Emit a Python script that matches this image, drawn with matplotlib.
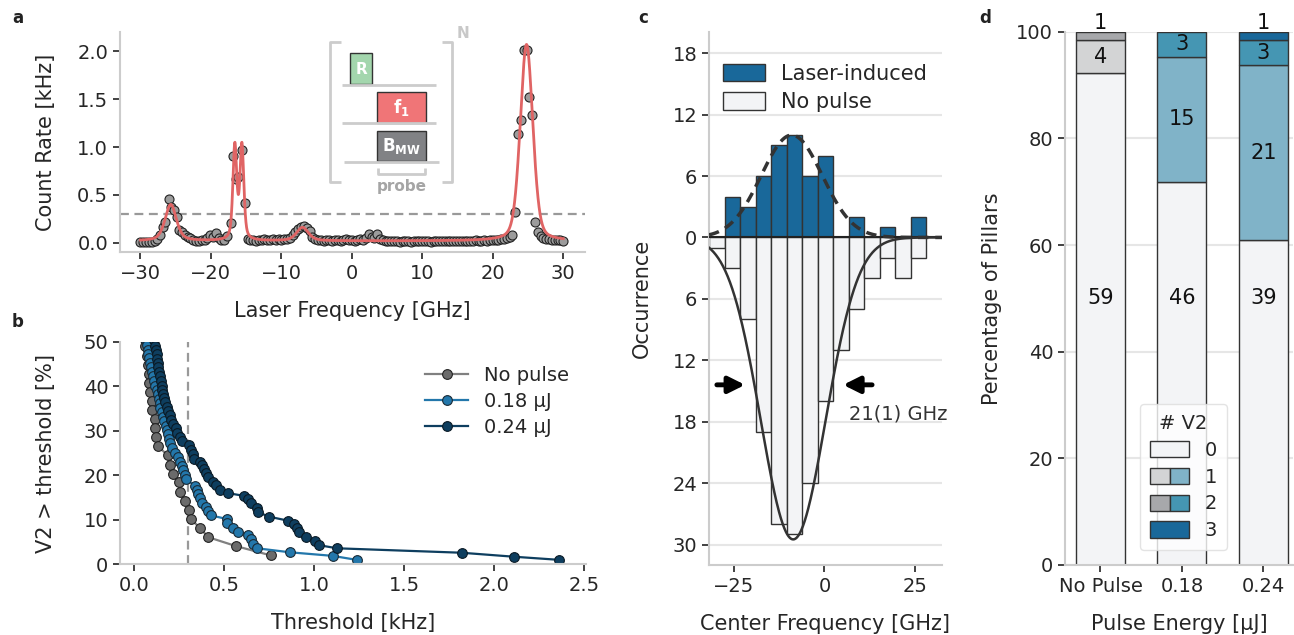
import numpy as np
import matplotlib
matplotlib.use("Agg")
import matplotlib.pyplot as plt
from matplotlib.patches import Patch, Rectangle
from matplotlib.legend_handler import HandlerTuple

# ---------------- data ----------------
# panel a: PLE scan
freq_a = [
    -30.0, -29.6, -29.2, -28.8, -28.4, -28.0, -27.6, -27.2, -26.8, -26.5,
    -26.0, -25.6, -25.2, -24.8, -24.5, -24.1, -23.7, -23.3, -22.9, -22.5,
    -22.1, -21.7, -21.3, -20.9, -20.5, -20.1, -19.7, -19.3, -18.9, -18.5,
    -18.1, -17.7, -17.2, -16.8, -16.4, -16.1, -15.6, -15.2, -14.8, -14.4,
    -14.0, -13.6, -13.2, -12.8, -12.4, -12.0, -11.6, -11.2, -10.8, -10.4,
    -10.0, -9.6, -9.2, -8.8, -8.4, -8.0, -7.6, -7.2, -6.8, -6.4,
    -6.0, -5.6, -5.2, -4.8, -4.4, -4.0, -3.6, -3.2, -2.8, -2.4,
    -2.0, -1.6, -1.2, -0.8, -0.4, 0.0, 0.4, 0.8, 1.2, 1.6,
    2.0, 2.4, 2.8, 3.2, 3.6, 4.0, 4.4, 4.8, 5.2, 5.6,
    6.0, 6.4, 6.8, 7.2, 7.6, 8.0, 8.4, 8.8, 9.2, 9.6,
    10.0, 10.4, 10.8, 11.2, 11.6, 12.0, 12.4, 12.8, 13.2, 13.6,
    14.0, 14.4, 14.8, 15.2, 15.6, 16.0, 16.4, 16.8, 17.2, 17.6,
    18.0, 18.4, 18.8, 19.2, 19.6, 20.0, 20.4, 20.8, 21.2, 21.6,
    22.0, 22.4, 22.8, 23.2, 23.6, 24.0, 24.4, 24.8, 25.2, 25.6,
    26.0, 26.4, 26.8, 27.2, 27.6, 28.0, 28.4, 28.8, 29.2, 29.6,
    30.0,
]
rate_a = [
    0.01, 0.01, 0.01, 0.01, 0.01, 0.02, 0.04, 0.08, 0.17, 0.22,
    0.46, 0.37, 0.34, 0.27, 0.13, 0.11, 0.08, 0.06, 0.05, 0.03,
    0.02, 0.02, 0.03, 0.03, 0.05, 0.08, 0.06, 0.10, 0.05, 0.03,
    0.03, 0.07, 0.21, 0.91, 0.67, 0.69, 0.97, 0.42, 0.04, 0.03,
    0.03, 0.02, 0.03, 0.03, 0.04, 0.03, 0.03, 0.04, 0.03, 0.04,
    0.03, 0.04, 0.04, 0.05, 0.08, 0.11, 0.15, 0.17, 0.18, 0.16,
    0.12, 0.06, 0.04, 0.03, 0.03, 0.02, 0.03, 0.03, 0.02, 0.03,
    0.03, 0.02, 0.03, 0.04, 0.03, 0.03, 0.02, 0.03, 0.04, 0.03,
    0.05, 0.09, 0.06, 0.05, 0.09, 0.04, 0.03, 0.02, 0.02, 0.02,
    0.02, 0.02, 0.01, 0.02, 0.02, 0.02, 0.01, 0.02, 0.02, 0.02,
    0.02, 0.02, 0.02, 0.01, 0.02, 0.02, 0.02, 0.02, 0.02, 0.02,
    0.02, 0.02, 0.02, 0.02, 0.02, 0.02, 0.02, 0.02, 0.02, 0.03,
    0.02, 0.02, 0.03, 0.02, 0.03, 0.03, 0.03, 0.03, 0.04, 0.04,
    0.05, 0.06, 0.08, 0.32, 1.14, 1.28, 2.01, 2.01, 1.52, 1.33,
    0.22, 0.11, 0.07, 0.05, 0.04, 0.04, 0.03, 0.03, 0.03, 0.03,
    0.02,
]
# fitted peaks: center, amplitude, fwhm, lorentz fraction
fit_centers = [-25.7, -16.6, -15.6, -7.0, 24.8]
fit_amps = [0.38, 0.98, 0.98, 0.14, 2.05]
fit_fwhm = [1.9, 0.65, 0.65, 2.0, 2.1]
fit_eta = [0.5, 0.5, 0.5, 0.5, 0.3]
fit_offset = 0.02
threshold_a = 0.3

# panel b: fraction of V2 above threshold
thr_nopulse = [0.055, 0.060, 0.069, 0.074, 0.081, 0.083, 0.087, 0.097, 0.100, 0.115,
               0.115, 0.120, 0.134, 0.186, 0.198, 0.213, 0.248, 0.254, 0.282, 0.306,
               0.313, 0.365, 0.411, 0.565, 0.759]
pct_nopulse = [51.0, 49.0, 46.9, 44.9, 42.9, 40.8, 38.8, 36.7, 34.7, 32.7,
               30.6, 28.6, 26.5, 24.5, 22.4, 20.4, 18.4, 16.3, 14.3, 12.2,
               10.2, 8.2, 6.1, 4.1, 2.0]
thr_018 = [0.064, 0.069, 0.074, 0.078, 0.083, 0.087, 0.093, 0.097, 0.106, 0.110,
           0.115, 0.124, 0.130, 0.139, 0.143, 0.146, 0.156, 0.161, 0.165, 0.175,
           0.180, 0.187, 0.193, 0.200, 0.208, 0.226, 0.245, 0.254, 0.263, 0.272,
           0.282, 0.287, 0.337, 0.347, 0.356, 0.365, 0.374, 0.398, 0.411, 0.426,
           0.513, 0.517, 0.550, 0.578, 0.633, 0.648, 0.661, 0.683, 0.865, 1.102,
           1.235]
pct_018 = [50.5, 49.4, 48.3, 47.3, 46.3, 45.3, 44.3, 43.2, 42.3, 41.3,
           40.2, 39.3, 38.3, 37.2, 36.3, 35.1, 34.2, 33.2, 32.3, 31.1,
           30.2, 29.3, 28.2, 27.2, 26.1, 25.1, 24.1, 23.1, 22.2, 21.2,
           20.1, 19.1, 17.7, 16.7, 15.8, 14.9, 13.9, 13.0, 12.0, 11.0,
           10.2, 9.2, 8.2, 7.3, 6.6, 5.6, 4.6, 3.6, 2.7, 1.9,
           1.0]
thr_024 = [0.110, 0.115, 0.120, 0.124, 0.128, 0.130, 0.134, 0.139, 0.143, 0.148,
           0.152, 0.156, 0.161, 0.165, 0.171, 0.183, 0.189, 0.198, 0.204, 0.217,
           0.232, 0.239, 0.254, 0.267, 0.304, 0.313, 0.324, 0.333, 0.365, 0.374,
           0.389, 0.398, 0.411, 0.436, 0.454, 0.476, 0.522, 0.609, 0.633, 0.647,
           0.680, 0.689, 0.750, 0.856, 0.889, 0.902, 0.917, 0.954, 1.004, 1.026,
           1.128, 1.819, 2.111, 2.361]
pct_024 = [50.5, 49.2, 48.3, 47.3, 46.2, 45.3, 44.3, 43.2, 42.3, 41.3,
           40.2, 39.3, 38.4, 37.4, 36.4, 35.4, 34.4, 33.5, 32.5, 31.6,
           30.6, 29.6, 28.7, 27.8, 26.9, 25.6, 24.8, 23.7, 23.1, 22.4,
           21.4, 20.5, 19.6, 18.6, 17.8, 16.7, 16.0, 15.4, 14.6, 13.7,
           12.7, 11.7, 10.7, 9.8, 9.0, 8.1, 7.2, 6.1, 5.3, 4.3,
           3.6, 2.6, 1.7, 1.0]
threshold_b = 0.3

# panel c: histogram of center frequencies
bin_edges = [-31.8, -27.52, -23.24, -18.96, -14.68, -10.40, -6.12, -1.84,
             2.44, 6.72, 11.00, 15.28, 19.56, 23.84, 28.12]
counts_laser = [0, 4, 3, 6, 9, 10, 6, 8, 0, 2, 0, 1, 0, 2]
counts_nopulse = [1, 3, 8, 19, 28, 29, 24, 16, 11, 7, 4, 2, 4, 2]
gauss_laser = (10.0, -9.0, 8.4)      # amplitude, center, sigma
gauss_nopulse = (29.5, -8.6, 8.92)
fwhm_label = "21(1) GHz"

# panel d: number of V2 per pillar
energies = ["No Pulse", "0.18", "0.24"]
n_v2_0 = [59, 46, 39]
n_v2_1 = [4, 15, 21]
n_v2_2 = [1, 3, 3]
n_v2_3 = [0, 0, 1]

# ---------------- style ----------------
plt.rcParams.update({
    "font.family": "DejaVu Sans",
    "font.size": 14,
    "axes.labelsize": 15,
    "axes.labelpad": 9,
    "xtick.labelsize": 14,
    "ytick.labelsize": 14,
    "axes.edgecolor": "#cccccc",
    "axes.linewidth": 1.5,
    "xtick.color": "#333333",
    "ytick.color": "#333333",
    "xtick.labelcolor": "#262626",
    "ytick.labelcolor": "#262626",
    "xtick.major.size": 5,
    "ytick.major.size": 5,
    "xtick.major.width": 1.3,
    "ytick.major.width": 1.3,
    "axes.labelcolor": "#262626",
    "text.color": "#262626",
})
XPAD = 13

W, H = 1294, 635
fig = plt.figure(figsize=(W / 100, H / 100), dpi=100)


def despine(ax):
    ax.spines["top"].set_visible(False)
    ax.spines["right"].set_visible(False)


def pvoigt(x, c, a, fwhm, eta):
    g = np.exp(-4 * np.log(2) * (x - c) ** 2 / fwhm ** 2)
    l = 1.0 / (1 + 4 * (x - c) ** 2 / fwhm ** 2)
    return a * (eta * l + (1 - eta) * g)


# ---------------- panel a ----------------
ax_a = fig.add_axes([120 / W, 1 - 252 / H, 465 / W, 220 / H])
despine(ax_a)
xf = np.linspace(-30, 30, 2000)
yf = np.full_like(xf, fit_offset)
for c, a, w, e in zip(fit_centers, fit_amps, fit_fwhm, fit_eta):
    yf += pvoigt(xf, c, a, w, e)
ax_a.axhline(threshold_a, color="#999999", ls="--", lw=1.6, dashes=(4, 2.5), zorder=1)
ax_a.plot(freq_a, rate_a, "o", ms=6.5, mfc="#9c9c9c", mec="#222222", mew=0.8, zorder=2)
ax_a.plot(xf, yf, color="#e06464", lw=2, zorder=3)
ax_a.set_xlim(-32.9, 33.1)
ax_a.set_ylim(-0.095, 2.2)
ax_a.set_xticks([-30, -20, -10, 0, 10, 20, 30])
ax_a.set_yticks([0, 0.5, 1.0, 1.5, 2.0])
ax_a.set_xlabel("Laser Frequency [GHz]", labelpad=XPAD)
ax_a.set_ylabel("Count Rate [kHz]")
ax_a.yaxis.set_label_coords(-0.137, 0.5)

# pulse sequence sketch (pixel coordinates)
ax_in = fig.add_axes([322 / W, 1 - 195 / H, 158 / W, 170 / H])
ax_in.set_xlim(322, 480)
ax_in.set_ylim(195, 25)
ax_in.axis("off")
lc = "#cccccc"
for xs, ys in [((340.7, 330, 330, 340.7), (41.7, 41.7, 182.3, 182.3)),
               ((441.7, 452.3, 452.3, 441.7), (41.7, 41.7, 182.3, 182.3)),
               ((341.7, 436), (85.3, 85.3)),
               ((341.7, 436), (123.3, 123.3)),
               ((344.3, 439), (162.3, 162.3)),
               ((378.3, 378.3, 425, 425), (168, 174, 174, 168))]:
    ax_in.plot(xs, ys, color=lc, lw=2, solid_capstyle="butt")
ax_in.add_patch(Rectangle((350, 53.3), 22, 31, fc="#a3d6ad", ec="#333333", lw=1))
ax_in.add_patch(Rectangle((377.3, 92.3), 48.4, 30.4, fc="#f07577", ec="#333333", lw=1))
ax_in.add_patch(Rectangle((377.3, 131), 48.4, 30, fc="#818285", ec="#333333", lw=1))
ax_in.text(361, 69, "R", color="white", fontsize=11, fontweight="bold", ha="center", va="center")
ax_in.text(401.5, 107.5, r"f$_\mathbf{1}$", color="white", fontsize=12, fontweight="bold",
           ha="center", va="center")
ax_in.text(401.5, 146, r"B$_\mathbf{MW}$", color="white", fontsize=12, fontweight="bold",
           ha="center", va="center")
ax_in.text(401.5, 186, "probe", color="#a5a5a5", fontsize=11, fontweight="bold",
           ha="center", va="center")
ax_in.text(463, 33, "N", color="#c8c8c8", fontsize=11, fontweight="bold",
           ha="center", va="center")

# ---------------- panel b ----------------
ax_b = fig.add_axes([120 / W, 1 - 564.3 / H, 466 / W, 222.3 / H])
despine(ax_b)
ax_b.axvline(threshold_b, color="#999999", ls="--", lw=1.6, dashes=(4, 2.5), zorder=1)
ax_b.plot(thr_nopulse, pct_nopulse, "-o", color="#808080", mfc="#6b6b6b", mec="#222222",
          mew=0.8, ms=7, lw=1.6, label="No pulse")
ax_b.plot(thr_018, pct_018, "-o", color="#2377ab", mfc="#2377ab", mec="#1a2a35",
          mew=0.8, ms=7, lw=1.6, label="0.18 µJ")
ax_b.plot(thr_024, pct_024, "-o", color="#0e3e5f", mfc="#0e3e5f", mec="#0a1a25",
          mew=0.8, ms=7, lw=1.6, label="0.24 µJ")
ax_b.set_xlim(-0.079, 2.51)
ax_b.set_ylim(0, 50)
ax_b.set_xticks([0, 0.5, 1.0, 1.5, 2.0, 2.5])
ax_b.set_yticks([0, 10, 20, 30, 40, 50])
ax_b.set_xlabel("Threshold [kHz]", labelpad=XPAD)
ax_b.set_ylabel("V2 > threshold [%]")
ax_b.yaxis.set_label_coords(-0.137, 0.5)
ax_b.legend(loc="upper right", bbox_to_anchor=(1.0, 0.97), frameon=False, fontsize=14,
            handlelength=2.2, labelspacing=0.35)

# ---------------- panel c ----------------
ax_c = fig.add_axes([709 / W, 1 - 565 / H, 233 / W, 533.3 / H])
despine(ax_c)
ax_c.set_axisbelow(True)
ax_c.grid(axis="y", color="#e6e6e6", lw=1.5)
lefts = bin_edges[:-1]
widths = np.diff(bin_edges)
ax_c.bar(lefts, counts_laser, widths, align="edge", color="#19689a", ec="#333333",
         lw=1, label="Laser-induced", zorder=2)
ax_c.bar(lefts, [-v for v in counts_nopulse], widths, align="edge", color="#f3f4f6",
         ec="#333333", lw=1, label="No pulse", zorder=2)
ax_c.axhline(0, color="#222222", lw=1.5, zorder=3)
xg = np.linspace(-31.8, 32.4, 400)
A, mu, s = gauss_laser
ax_c.plot(xg, A * np.exp(-(xg - mu) ** 2 / (2 * s ** 2)), ls="--", color="#333333",
          lw=2.5, dashes=(3, 2), zorder=4)
A, mu, s = gauss_nopulse
ax_c.plot(xg, -A * np.exp(-(xg - mu) ** 2 / (2 * s ** 2)), color="#333333", lw=1.8, zorder=4)
arrow_kw = dict(arrowstyle="-|>,head_width=0.35,head_length=0.7", color="black", lw=3.5)
ax_c.annotate("", xy=(-21.1, -14.4), xytext=(-30.4, -14.4), arrowprops=arrow_kw, zorder=5)
ax_c.annotate("", xy=(4.4, -14.4), xytext=(13.9, -14.4), arrowprops=arrow_kw, zorder=5)
ax_c.text(6.8, -17.2, fwhm_label, ha="left", va="center", fontsize=14, color="#333333")
ax_c.set_xlim(-31.8, 32.4)
ax_c.set_ylim(-32.0, 20.1)
yt = [18, 12, 6, 0, -6, -12, -18, -24, -30]
ax_c.set_yticks(yt)
ax_c.set_yticklabels([str(abs(v)) for v in yt])
ax_c.set_xticks([-25, 0, 25])
ax_c.set_xlabel("Center Frequency [GHz]", labelpad=XPAD)
ax_c.set_ylabel("Occurrence")
ax_c.yaxis.set_label_coords(-0.245, 0.5)
ax_c.legend(loc="upper left", bbox_to_anchor=(-0.02, 0.975), frameon=False, fontsize=15,
            handlelength=2.0, handleheight=0.9, labelspacing=0.4)

# ---------------- panel d ----------------
ax_d = fig.add_axes([1065 / W, 1 - 565 / H, 228 / W, 533.3 / H])
despine(ax_d)
ax_d.set_axisbelow(True)
ax_d.grid(axis="y", color="#e6e6e6", lw=1.5)
col0 = "#f3f4f6"
cols1 = ["#d3d4d5", "#80b3c8", "#80b3c8"]
cols2 = ["#a7a8ab", "#4596b3", "#4596b3"]
col3 = "#19689a"
xpos = np.arange(len(energies))
counts = np.array([n_v2_0, n_v2_1, n_v2_2, n_v2_3], dtype=float)
totals = counts.sum(axis=0)
pct = counts / totals * 100
bottom = np.zeros(len(energies))
for lvl in range(4):
    for i in range(len(energies)):
        if counts[lvl, i] == 0:
            continue
        fc = [col0, cols1[i], cols2[i], col3][lvl]
        ax_d.bar(xpos[i], pct[lvl, i], 0.6, bottom=bottom[i], color=fc, ec="#333333",
                 lw=1, zorder=2)
        n = int(counts[lvl, i])
        if lvl == 0:
            ty = 50
        elif n == 1:
            ty = 101.6
        else:
            ty = bottom[i] + pct[lvl, i] / 2
        ax_d.text(xpos[i], ty, str(n), ha="center", va="center", fontsize=15,
                  color="#111111", zorder=3, clip_on=False)
    bottom += pct[lvl]
ax_d.set_xlim(-0.436, 2.365)
ax_d.set_ylim(0, 100)
ax_d.set_xticks(xpos)
ax_d.set_xticklabels(energies)
ax_d.set_yticks([0, 20, 40, 60, 80, 100])
ax_d.set_xlabel("Pulse Energy [µJ]", labelpad=XPAD)
ax_d.set_ylabel("Percentage of Pillars")
ax_d.yaxis.set_label_coords(-0.275, 0.5)
pk = dict(ec="#333333", lw=1)
handles = [Patch(fc=col0, **pk),
           (Patch(fc=cols1[0], **pk), Patch(fc=cols1[1], **pk)),
           (Patch(fc=cols2[0], **pk), Patch(fc=cols2[1], **pk)),
           Patch(fc=col3, **pk)]
ax_d.legend(handles, ["0", "1", "2", "3"], title="# V2", loc="lower center",
            bbox_to_anchor=(0.52, 0.01), fontsize=14, title_fontsize=14,
            handler_map={tuple: HandlerTuple(ndivide=None, pad=0)},
            handlelength=2.0, handleheight=0.9, framealpha=0.8, edgecolor="#dddddd",
            borderpad=0.5, labelspacing=0.4)

# panel letters
for lab, (px, py) in {"a": (18, 18), "b": (18, 322), "c": (643, 18), "d": (985, 18)}.items():
    fig.text(px / W, 1 - py / H, lab, fontsize=12, fontweight="bold", ha="center",
             va="center", color="#222222")

fig.savefig("out.png", dpi=100)
